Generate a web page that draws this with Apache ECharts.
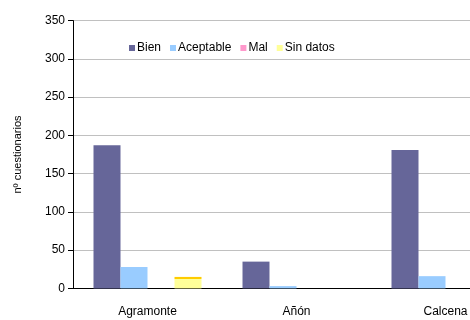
<!DOCTYPE html>
<html>
<head>
<meta charset="utf-8">
<script src="https://cdn.jsdelivr.net/npm/echarts@6/dist/echarts.min.js"></script>
<style>html,body{margin:0;padding:0;background:#fff;overflow:hidden}#c{width:520px;height:320px}</style>
</head>
<body>
<div id="c"></div>
<script>
var categories = ['Agramonte', 'Añón', 'Calcena'];
var seriesNames = ['Bien', 'Aceptable', 'Mal', 'Sin datos'];
var bien = [187, 35, 181];
var aceptable = [28, 3, 16];
var mal = [0, 0, 0];
var sinDatos = [15, 0, 0];
var yTicks = [0, 50, 100, 150, 200, 250, 300, 350];

var chart = echarts.init(document.getElementById('c'), null, {renderer: 'canvas'});
var font = 'Liberation Sans, Arial, sans-serif';
var colors = ['#666699', '#99CCFF', '#FF99CC', '#FFFF99'];
var dataSets = [bien, aceptable, mal, sinDatos];

var series = seriesNames.map(function (n, i) {
  var s = {
    name: n, type: 'bar', data: dataSets[i], barWidth: 27, barGap: '0%',
    itemStyle: {color: colors[i]}
  };
  if (i === 3) {
    s.itemStyle.color = new echarts.graphic.LinearGradient(0, 0, 0, 1, [
      {offset: 0, color: '#FFCC00'}, {offset: 0.15, color: '#FFCC00'},
      {offset: 0.16, color: '#FFFF99'}, {offset: 1, color: '#FFFF99'}
    ]);
  }
  return s;
});

chart.setOption({
  animation: false,
  backgroundColor: '#fff',
  grid: {left: 73, top: 20.6, bottom: 31.6, right: 0, containLabel: false},
  legend: {
    data: seriesNames.map(function (n, i) { return {name: n, itemStyle: {color: colors[i]}}; }),
    left: 124, top: 37, itemWidth: 6, itemHeight: 6, itemGap: 9,
    icon: 'rect',
    textStyle: {fontFamily: font, fontSize: 12, color: '#000', padding: [0, 0, 0, -3]}
  },
  xAxis: {
    type: 'category', data: categories,
    axisLine: {lineStyle: {color: '#000', width: 1}},
    axisTick: {show: false},
    axisLabel: {fontFamily: font, fontSize: 12, color: '#000', margin: 17}
  },
  yAxis: {
    type: 'value', min: 0, max: 350, interval: 50,
    name: 'nº cuestionarios', nameLocation: 'middle', nameGap: 50,
    nameTextStyle: {fontFamily: font, fontSize: 11, color: '#000'},
    axisLine: {show: true, lineStyle: {color: '#000', width: 1}},
    axisTick: {show: true, length: 5, lineStyle: {color: '#000'}},
    axisLabel: {fontFamily: font, fontSize: 12, color: '#000', margin: 8,
      formatter: function (v) { return yTicks.indexOf(v) >= 0 ? String(v) : ''; }},
    splitLine: {show: true, lineStyle: {color: '#C0C0C0', width: 1}}
  },
  series: series
});
</script>
</body>
</html>
